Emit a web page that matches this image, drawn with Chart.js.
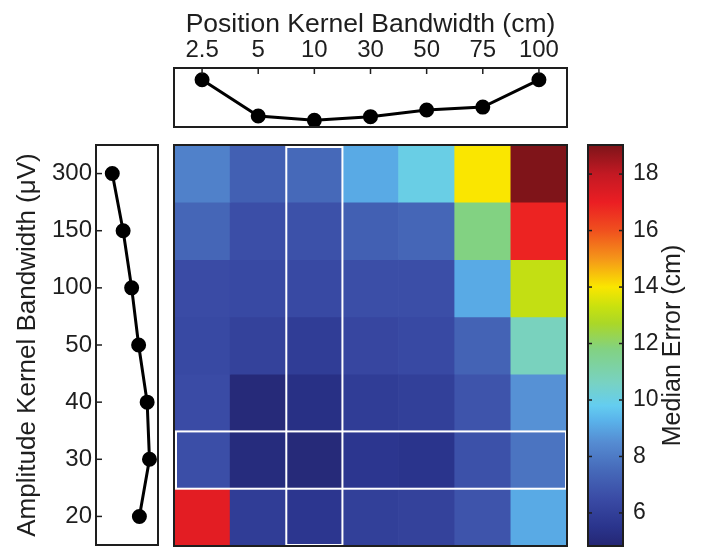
<!DOCTYPE html>
<html>
<head>
<meta charset="utf-8">
<script src="https://cdn.jsdelivr.net/npm/chart.js@4.4.1/dist/chart.umd.min.js"></script>
<style>
  html, body { margin: 0; padding: 0; background: #fff; }
  #wrap { position: relative; width: 701px; height: 552px; }
  #wrap canvas { position: absolute; }
</style>
</head>
<body>
<div id="wrap">
  <canvas id="topChart" style="left:169px;top:0px" width="404" height="133"></canvas>
  <canvas id="leftChart" style="left:0px;top:139px" width="164" height="413"></canvas>
  <canvas id="heatChart" style="left:169px;top:139px" width="404" height="413"></canvas>
  <canvas id="barChart" style="left:582px;top:139px" width="119" height="413"></canvas>
</div>
<script>
const FONT = 'Liberation Sans, Arial, sans-serif';
const INK = '#1e1e1e';

// position bandwidths (cm) and amplitude bandwidths (uV), top row first
const posLabels = ['2.5', '5', '10', '30', '50', '75', '100'];
const ampLabels = ['300', '150', '100', '50', '40', '30', '20'];

// median error (cm), one array per amplitude row
const err300 = [8.2, 7.2, 7.5, 9.1, 10.0, 14.0, 19.0];
const err150 = [7.4, 6.6, 6.7, 7.2, 7.4, 11.8, 16.9];
const err100 = [6.5, 6.4, 6.4, 6.6, 6.6, 9.1, 13.2];
const err50 = [6.4, 6.1, 5.9, 6.3, 6.4, 7.3, 10.7];
const err40 = [6.5, 5.0, 5.3, 5.9, 6.0, 6.8, 8.6];
const err30 = [6.6, 5.1, 5.0, 5.6, 5.5, 6.7, 7.8];
const err20 = [17.2, 5.9, 5.6, 6.0, 6.1, 6.8, 9.1];
const errRows = [err300, err150, err100, err50, err40, err30, err20];

// marginal curves
const posCurve = [9.2, 6.75, 6.45, 6.7, 7.15, 7.35, 9.2];
const ampCurve = [7.05, 7.75, 8.3, 8.75, 9.3, 9.45, 8.8];

// highlighted column / row
const bestPos = '10';
const bestAmp = '30';

// colour bar
const cMin = 4.83, cMax = 19.03;
const cTicks = [6, 8, 10, 12, 14, 16, 18];
const cStops = [
  [4.83, [36, 38, 115]], [5.5, [42, 52, 140]], [6.5, [58, 75, 165]],
  [7.5, [70, 105, 185]], [8.5, [85, 140, 210]], [9.3, [90, 180, 235]],
  [9.8, [100, 205, 240]], [10.6, [120, 210, 195]], [11.8, [130, 210, 130]],
  [12.7, [170, 215, 40]], [13.3, [200, 225, 15]], [14, [250, 230, 0]],
  [15, [245, 150, 25]], [16, [240, 80, 30]], [17, [235, 30, 35]],
  [18, [195, 25, 35]], [19.03, [125, 20, 25]]
];

function cmap(v) {
  if (v <= cStops[0][0]) return 'rgb(' + cStops[0][1].join(',') + ')';
  for (let i = 1; i < cStops.length; i++) {
    const [v1, c1] = cStops[i];
    const [v0, c0] = cStops[i - 1];
    if (v <= v1) {
      const t = (v - v0) / (v1 - v0);
      const c = c0.map((x, k) => Math.round(x + (c1[k] - x) * t));
      return 'rgb(' + c.join(',') + ')';
    }
  }
  return 'rgb(' + cStops[cStops.length - 1][1].join(',') + ')';
}

// drop the label overhang padding so the plot box keeps its size
function noPad(s) {
  s.paddingTop = 0;
  s.paddingBottom = 0;
  s.paddingLeft = 0;
  s.paddingRight = 0;
}

// black frame around the plot area + small inward ticks
const framePlugin = {
  id: 'frame',
  afterDraw(chart, args, opts) {
    const { ctx, chartArea: a } = chart;
    ctx.save();
    ctx.strokeStyle = INK;
    if (opts.ticks) {
      ctx.lineWidth = 1.5;
      opts.ticks(chart).forEach(t => {
        ctx.beginPath();
        ctx.moveTo(t[0], t[1]);
        ctx.lineTo(t[2], t[3]);
        ctx.stroke();
      });
    }
    ctx.lineWidth = 2;
    ctx.strokeRect(a.left, a.top, a.right - a.left, a.bottom - a.top);
    ctx.restore();
  }
};

Chart.defaults.font.family = FONT;
Chart.defaults.color = INK;
Chart.defaults.animation = false;
Chart.defaults.plugins.legend.display = false;
Chart.defaults.plugins.tooltip.enabled = false;

const noGrid = { display: false, drawTicks: false };

// top: error vs position bandwidth
new Chart(document.getElementById('topChart'), {
  type: 'line',
  data: {
    labels: posLabels,
    datasets: [{
      data: posCurve,
      borderColor: '#000',
      backgroundColor: '#000',
      borderWidth: 3,
      pointRadius: 6,
      tension: 0,
      clip: false
    }]
  },
  options: {
    responsive: false,
    layout: { autoPadding: false, padding: { left: 5, right: 6, top: 0, bottom: 6 } },
    scales: {
      x: {
        position: 'top',
        offset: true,
        grid: noGrid,
        border: { display: false },
        ticks: { font: { size: 24 }, padding: 3, maxRotation: 0 },
        title: { display: true, text: 'Position Kernel Bandwidth (cm)', font: { size: 26.5 }, padding: { top: 9, bottom: 0 } },
        afterFit(s) { s.height = 68; noPad(s); }
      },
      y: { display: false, min: 6, max: 10 }
    },
    plugins: {
      frame: {
        ticks(chart) {
          const x = chart.scales.x, a = chart.chartArea;
          return posLabels.map((l, i) => {
            const p = x.getPixelForValue(i);
            return [p, a.top, p, a.top + 6];
          });
        }
      }
    }
  },
  plugins: [framePlugin]
});

// left: error vs amplitude bandwidth
new Chart(document.getElementById('leftChart'), {
  type: 'line',
  data: {
    labels: ampLabels,
    datasets: [{
      data: ampCurve,
      borderColor: '#000',
      backgroundColor: '#000',
      borderWidth: 3,
      pointRadius: 6,
      tension: 0,
      clip: false
    }]
  },
  options: {
    responsive: false,
    indexAxis: 'y',
    layout: { autoPadding: false, padding: { left: 0, right: 6, top: 6, bottom: 7 } },
    scales: {
      y: {
        position: 'left',
        offset: true,
        grid: noGrid,
        border: { display: false },
        ticks: { font: { size: 24 }, padding: 4 },
        title: { display: true, text: 'Amplitude Kernel Bandwidth (\u03bcV)', font: { size: 26 }, padding: { top: 12, bottom: 0 } },
        afterFit(s) { s.width = 96; noPad(s); }
      },
      x: { display: false, min: 6, max: 10 }
    },
    plugins: {
      frame: {
        ticks(chart) {
          const y = chart.scales.y, a = chart.chartArea;
          return ampLabels.map((l, i) => {
            const p = y.getPixelForValue(i);
            return [a.left, p, a.left + 6, p];
          });
        }
      }
    }
  },
  plugins: [framePlugin]
});

// heat map: one floating-bar dataset per amplitude row
const heatSets = errRows.map((row, r) => {
  const level = ampLabels.length - 1 - r;
  return {
    data: row.map(() => [level, level + 1]),
    backgroundColor: row.map(cmap),
    borderWidth: 0,
    barPercentage: 1,
    categoryPercentage: 1,
    grouped: false
  };
});

const highlightPlugin = {
  id: 'highlight',
  afterDatasetsDraw(chart) {
    const { ctx, chartArea: a, scales: { x, y } } = chart;
    const half = (x.getPixelForValue(1) - x.getPixelForValue(0)) / 2;
    const ci = posLabels.indexOf(bestPos);
    const ri = ampLabels.length - 1 - ampLabels.indexOf(bestAmp);
    ctx.save();
    ctx.strokeStyle = '#fff';
    ctx.lineWidth = 2;
    const cx = x.getPixelForValue(ci);
    ctx.strokeRect(cx - half, a.top + 2, half * 2, a.bottom - a.top - 3);
    const yTop = y.getPixelForValue(ri + 1), yBot = y.getPixelForValue(ri);
    ctx.strokeRect(a.left + 2, yTop, a.right - a.left - 3, yBot - yTop);
    ctx.restore();
  }
};

new Chart(document.getElementById('heatChart'), {
  type: 'bar',
  data: { labels: posLabels, datasets: heatSets },
  options: {
    responsive: false,
    layout: { padding: { left: 5, right: 6, top: 6, bottom: 6 } },
    scales: {
      x: { display: false, offset: true },
      y: { display: false, min: 0, max: ampLabels.length }
    }
  },
  plugins: [highlightPlugin, framePlugin]
});

// colour bar
new Chart(document.getElementById('barChart'), {
  type: 'bar',
  data: {
    labels: [''],
    datasets: [{
      data: [[cMin, cMax]],
      backgroundColor(c) {
        const a = c.chart.chartArea;
        if (!a) return '#000';
        const y = c.chart.scales.y;
        const g = c.chart.ctx.createLinearGradient(0, y.getPixelForValue(cMin), 0, y.getPixelForValue(cMax));
        cStops.forEach(s => g.addColorStop((s[0] - cMin) / (cMax - cMin), cmap(s[0])));
        return g;
      },
      borderWidth: 0,
      barPercentage: 1,
      categoryPercentage: 1
    }]
  },
  options: {
    responsive: false,
    layout: { padding: { left: 6, right: 0, top: 6, bottom: 6 } },
    scales: {
      x: { display: false },
      y: {
        position: 'right',
        min: cMin,
        max: cMax,
        grid: noGrid,
        border: { display: false },
        ticks: { font: { size: 23 }, padding: 10 },
        afterBuildTicks(s) { s.ticks = cTicks.map(v => ({ value: v })); },
        afterFit(s) { s.width = 78; noPad(s); }
      }
    },
    plugins: {
      frame: {
        ticks(chart) {
          const y = chart.scales.y, a = chart.chartArea;
          const out = [];
          cTicks.forEach(v => {
            const p = y.getPixelForValue(v);
            out.push([a.left, p, a.left + 4, p]);
            out.push([a.right - 4, p, a.right, p]);
          });
          return out;
        }
      }
    }
  },
  plugins: [framePlugin, {
    id: 'cbarTitle',
    afterDraw(chart) {
      const { ctx, chartArea: a } = chart;
      ctx.save();
      ctx.translate(a.right + 50, (a.top + a.bottom) / 2);
      ctx.rotate(-Math.PI / 2);
      ctx.font = '25px ' + FONT;
      ctx.fillStyle = INK;
      ctx.textAlign = 'center';
      ctx.textBaseline = 'middle';
      ctx.fillText('Median Error (cm)', 0, 0);
      ctx.restore();
    }
  }]
});
</script>
</body>
</html>
